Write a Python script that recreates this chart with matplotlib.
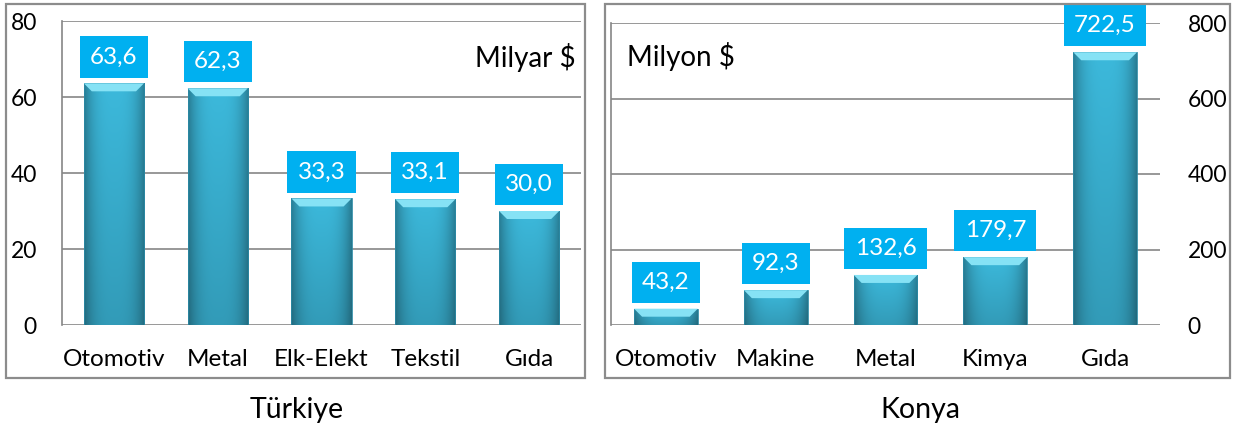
import numpy as np
import matplotlib
matplotlib.use("Agg")
import matplotlib.pyplot as plt
from matplotlib.patches import Rectangle, Polygon

# data
tr_labels = ['Otomotiv', 'Metal', 'Elk-Elekt', 'Tekstil', 'Gıda']
tr_values = [63.6, 62.3, 33.3, 33.1, 30.0]
tr_ticks = [0, 20, 40, 60, 80]

konya_labels = ['Otomotiv', 'Makine', 'Metal', 'Kimya', 'Gıda']
konya_values = [43.2, 92.3, 132.6, 179.7, 722.5]
konya_ticks = [0, 200, 400, 600, 800]

plt.rcParams['font.family'] = ['Lato', 'DejaVu Sans']

GRID = '#868686'
BOX = '#00B0F0'
W, H, DPI = 12.36, 4.30, 100

# shading image for the bars: darker at the sides and bottom, lighter in the middle
xs = np.linspace(0, 1, 60)
ys = np.linspace(0, 1, 60)
hx = 1 - 0.32 * np.abs(2 * xs - 1) ** 3
vy = 0.84 + 0.16 * ys
base = np.array([0.235, 0.725, 0.86])
shade = (vy[:, None, None] * hx[None, :, None]) * base[None, None, :]
shade = np.clip(shade, 0, 1)

fig = plt.figure(figsize=(W, H), dpi=DPI)


def draw_bars(ax, labels, values, ymax, width):
    x = np.arange(len(labels))
    bars = ax.bar(x, values, width=width, color='none', edgecolor='#2b8aa6',
                  linewidth=0.6, zorder=3)
    pos = ax.get_position()
    px_y = ymax / (H * DPI * pos.height)        # data units per pixel, y
    px_x = len(labels) / (W * DPI * pos.width)  # data units per pixel, x
    dy, dx = 8 * px_y, 8 * px_x
    for b, v in zip(bars, values):
        x0 = b.get_x()
        x1 = x0 + b.get_width()
        im = ax.imshow(shade, extent=[x0, x1, 0, v], origin='lower',
                       aspect='auto', zorder=2, interpolation='bilinear')
        im.set_clip_path(b)
        top = Polygon([(x0, v), (x1, v), (x1 - dx, v - dy), (x0 + dx, v - dy)],
                      closed=True, facecolor='#86e2f5', edgecolor='none', zorder=4)
        ax.add_patch(top)
        ax.annotate(f'{v:.1f}'.replace('.', ','), (b.get_x() + b.get_width() / 2, v),
                    xytext=(0, 11.5), textcoords='offset points', ha='center',
                    va='bottom', color='white', fontsize=17.5, zorder=5,
                    bbox=dict(boxstyle='square,pad=0.42', fc=BOX, ec='none'))
    ax.set_xlim(-0.5, len(labels) - 0.5)
    ax.set_ylim(0, ymax)
    ax.set_xticks(x)
    ax.set_xticklabels(labels, fontsize=17.5)
    ax.yaxis.grid(True, color=GRID, linewidth=1.2, zorder=0)
    ax.set_axisbelow(True)
    for s in ['top', 'right', 'bottom']:
        ax.spines[s].set_visible(False)
    ax.spines['left'].set_color(GRID)
    ax.spines['left'].set_linewidth(1.2)
    ax.tick_params(length=0)
    ax.tick_params(axis='y', labelsize=16.5)
    ax.tick_params(axis='x', pad=17)


# Türkiye panel
ax1 = fig.add_axes([62 / 1236, 105 / 430, 519 / 1236, 304 / 430])
draw_bars(ax1, tr_labels, tr_values, 80, 0.58)
ax1.set_yticks(tr_ticks)
ax1.tick_params(axis='y', pad=18)
ax1.text(0.99, 0.88, 'Milyar $', transform=ax1.transAxes, ha='right',
         va='center', fontsize=20)

# Konya panel
ax2 = fig.add_axes([611 / 1236, 105 / 430, 549 / 1236, 302 / 430])
draw_bars(ax2, konya_labels, konya_values, 800, 0.58)
ax2.set_yticks(konya_ticks)
ax2.yaxis.tick_right()
ax2.tick_params(axis='y', pad=20)
ax2.text(0.03, 0.89, 'Milyon $', transform=ax2.transAxes, ha='left',
         va='center', fontsize=20)

# outer frames around each panel
for x0, x1 in [(6, 585), (605, 1230)]:
    fig.patches.append(Rectangle((x0 / 1236, 52 / 430), (x1 - x0) / 1236, 374 / 430,
                                 transform=fig.transFigure, fill=False,
                                 edgecolor='#8c8c8c', linewidth=1.6))

fig.text(297 / 1236, 1 - 410 / 430, 'Türkiye', ha='center', va='center', fontsize=20.5)
fig.text(920 / 1236, 1 - 410 / 430, 'Konya', ha='center', va='center', fontsize=20.5)

fig.savefig('out.png', dpi=DPI)
